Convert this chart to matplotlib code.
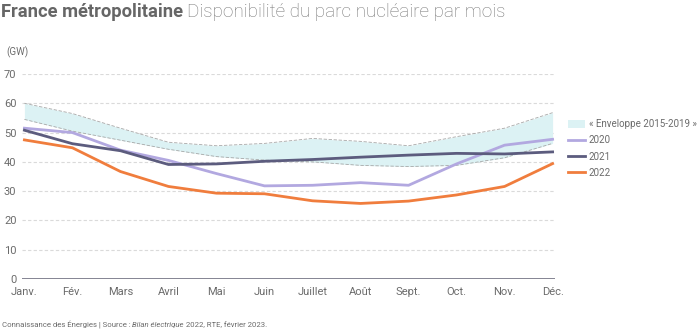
import matplotlib
matplotlib.use("Agg")
import matplotlib.pyplot as plt
import numpy as np
from matplotlib.patches import Patch
from matplotlib.lines import Line2D

plt.rcParams['font.family'] = ['Roboto', 'DejaVu Sans']

months = ["Janv.", "Fév.", "Mars", "Avril", "Mai", "Juin", "Juillet", "Août", "Sept.", "Oct.", "Nov.", "Déc."]
env_high = [60, 56.5, 51.5, 46.7, 45.5, 46.3, 48.0, 47.0, 45.5, 48.6, 51.5, 56.8]
env_low = [54.5, 50.5, 47.4, 44.3, 41.8, 40.6, 40.0, 38.8, 38.4, 38.8, 41.4, 46.3]
y2020 = [51.5, 50.0, 44.0, 40.5, 36.0, 31.8, 32.0, 32.9, 32.0, 39.3, 45.7, 47.7]
y2021 = [50.8, 46.2, 43.8, 39.1, 39.3, 40.2, 40.8, 41.6, 42.3, 42.9, 42.7, 43.4]
y2022 = [47.5, 44.8, 36.7, 31.6, 29.3, 29.1, 26.7, 25.8, 26.6, 28.7, 31.6, 39.4]

grey = "#6b6b6b"
x = np.arange(len(months))

fig = plt.figure(figsize=(7, 3.31), dpi=100)
ax = fig.add_axes([22/700, 1-279/331, 533/700, 205/331])

ax.fill_between(x, env_low, env_high, color="#dcf2f4", lw=0)
ax.plot(x, env_high, color="#a8a8a8", lw=0.6, ls=(0, (4, 2)))
ax.plot(x, env_low, color="#a8a8a8", lw=0.6, ls=(0, (4, 2)))
ax.plot(x, y2020, color="#b2a8e0", lw=2)
ax.plot(x, y2021, color="#5c5c7e", lw=2)
ax.plot(x, y2022, color="#f07d3d", lw=2)

ax.set_xlim(-0.05, 11.05)
ax.set_ylim(0, 70)
ax.set_yticks(range(0, 71, 10))
ax.set_xticks(x)
ax.set_xticklabels(months)
for yv in range(10, 71, 10):
    ax.axhline(yv, color="#dadada", lw=0.8, ls=(0, (3, 2)), zorder=0)
ax.axhline(0, color="#6f6f80", lw=1.2)
for s in ax.spines.values():
    s.set_visible(False)
ax.tick_params(length=0, colors=grey, labelsize=8)
ax.tick_params(axis="x", pad=6)
ax.tick_params(axis="y", pad=4)

handles = [Patch(facecolor="#dcf2f4", edgecolor="none"),
           Line2D([], [], color="#b2a8e0", lw=2),
           Line2D([], [], color="#5c5c7e", lw=2),
           Line2D([], [], color="#f07d3d", lw=2)]
labels = ["« Enveloppe 2015-2019 »", "2020", "2021", "2022"]
leg = fig.legend(handles, labels, loc="upper left", bbox_to_anchor=(568/700, 1-119/331),
                 frameon=False, fontsize=7.0, handlelength=1.7, handleheight=0.9,
                 labelspacing=0.65, borderaxespad=0, borderpad=0, handletextpad=0.45)
for t in leg.get_texts():
    t.set_color(grey)

fig.text(6/700, 1-52/331, "(GW)", fontsize=7, color=grey, va="center")

fig.canvas.draw()
r = fig.canvas.get_renderer()
t1 = fig.text(1/700, 1-12/331, "France métropolitaine", fontsize=13.2, fontweight="bold",
              color="#666666", va="center")
bb = t1.get_window_extent(r)
fig.text((bb.x1 + 4)/700, 1-12/331, "Disponibilité du parc nucléaire par mois", fontsize=13.6,
         fontweight="light", color="#777777", va="center")

parts = [("Connaissance des Énergies | Source : ", "normal"), ("Bilan électrique", "italic"),
         (" 2022, RTE, février 2023.", "normal")]
xp = 2
for txt, st in parts:
    t = fig.text(xp/700, 1-325/331, txt, fontsize=5.6, color=grey, style=st, va="center")
    xp = t.get_window_extent(r).x1

fig.savefig("out.png", dpi=100)
